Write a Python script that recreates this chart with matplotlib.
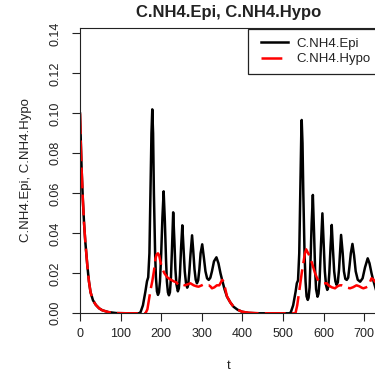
import matplotlib
matplotlib.use("Agg")
import matplotlib.pyplot as plt

plt.rcParams['font.family'] = ['Liberation Sans', 'DejaVu Sans']
plt.rcParams['lines.scale_dashes'] = False

# Times (days) and values
epi_t = [0, 2, 4, 7, 10, 13, 18, 22, 26, 32, 39, 47, 55, 70, 90, 120, 145,
         149, 155, 161, 165, 168, 171, 174, 176, 178, 180, 182, 185, 187, 189.5,
         192, 194.5, 197, 200, 203, 206, 209, 212, 214, 216.5, 219, 221.5, 224,
         226.5, 229.5, 232.5, 235, 237.5, 241, 243.5, 246, 249, 252, 255, 258,
         261, 264, 266.5, 269, 272, 276, 279, 282, 285, 288, 291, 294, 297, 301,
         305, 309, 313, 317, 321, 325, 330, 336, 341, 346, 350, 356, 362, 370,
         378, 388, 399, 415, 440, 515,
         519, 525, 531, 534, 537, 540, 543, 545, 546, 548, 550, 553, 555.5, 558,
         561, 563, 565.5, 568, 570.5, 573.5, 576.5, 579, 581.5, 585, 587.5, 590,
         593, 597, 600, 603, 606, 609, 611.5, 614, 617, 620, 623, 626, 629, 632,
         635, 638, 643, 647, 650, 653.5, 657, 660.5, 664, 667, 671, 675, 679,
         684, 690, 696, 702, 708.6, 713, 718, 722, 730]
epi_v = [0.100, 0.085, 0.072, 0.057, 0.045, 0.036, 0.024, 0.016, 0.0105, 0.0065,
         0.0042, 0.0025, 0.0015, 0.0006, 0.0001, 0.0, 0.0,
         0.0005, 0.004, 0.0108, 0.0160, 0.0180, 0.030, 0.065, 0.090, 0.102, 0.090,
         0.060, 0.030, 0.018, 0.011,
         0.0092, 0.0105, 0.016, 0.030, 0.048, 0.061, 0.046, 0.026, 0.016, 0.0105,
         0.009, 0.0105, 0.018,
         0.032, 0.0505, 0.036, 0.022, 0.0145, 0.011, 0.0125, 0.019, 0.033, 0.044,
         0.033, 0.021,
         0.0152, 0.0128, 0.0142, 0.020, 0.029, 0.039, 0.031, 0.022, 0.0168, 0.015,
         0.0165, 0.022, 0.030, 0.0345,
         0.028, 0.021, 0.0175, 0.0167, 0.0178, 0.021, 0.026, 0.028, 0.025, 0.020,
         0.0167, 0.012, 0.0083, 0.0055,
         0.0033, 0.0018, 0.0008, 0.0002, 0.0, 0.0,
         0.0004, 0.004, 0.0108, 0.0150, 0.0165, 0.030, 0.065, 0.090, 0.0967, 0.085,
         0.060, 0.030, 0.016, 0.0085,
         0.0067, 0.0078, 0.013, 0.028, 0.045, 0.0592, 0.040, 0.022, 0.012, 0.0083,
         0.0098, 0.016,
         0.032, 0.050, 0.036, 0.021, 0.0140, 0.0117, 0.0132, 0.020, 0.033, 0.0442,
         0.032, 0.021, 0.016, 0.0142,
         0.0155, 0.022, 0.0392, 0.030, 0.021, 0.0172, 0.0167, 0.0178, 0.024, 0.030,
         0.0347, 0.029, 0.021,
         0.0168, 0.0158, 0.0175, 0.023, 0.0275, 0.025, 0.020, 0.0167, 0.011]

hypo_t = [0, 2, 4, 7, 10, 13, 18, 22, 26, 32, 39, 47, 55, 70, 90, 120, 160,
          162, 166, 170, 174, 178, 182, 186, 189, 192, 195, 198, 202, 208, 215,
          222, 231, 237, 243, 250, 258, 265, 272, 280, 287, 292, 300, 305, 311,
          317, 321, 325, 331, 337, 343, 347, 350, 353, 358, 362, 370, 378, 388,
          399, 415, 430, 450, 530,
          531, 535, 538, 542, 546, 550, 554, 557, 562, 567, 573, 579, 585, 591,
          600, 608, 612, 620, 628, 634, 640, 645, 652, 659, 665, 672, 681, 688,
          694, 698, 705, 710, 715, 718, 722, 730]
hypo_v = [0.100, 0.085, 0.072, 0.057, 0.045, 0.036, 0.024, 0.016, 0.0105, 0.0065,
          0.0042, 0.0025, 0.0015, 0.0006, 0.0001, 0.0, 0.0,
          0.0003, 0.002, 0.007, 0.012, 0.016, 0.021, 0.0275, 0.0295, 0.030, 0.029,
          0.026, 0.0225, 0.020, 0.018,
          0.017, 0.016, 0.0155, 0.014, 0.0145, 0.014, 0.0145, 0.0150, 0.0140,
          0.0135, 0.0133, 0.0140, 0.0145, 0.0140,
          0.0140, 0.0135, 0.0125, 0.0130, 0.0140, 0.0140, 0.0155, 0.0167, 0.0160,
          0.0120, 0.0085, 0.0055, 0.0033, 0.0018,
          0.0008, 0.0003, 0.0001, 0.0, 0.0,
          0.0003, 0.004, 0.0083, 0.014, 0.020, 0.025, 0.030, 0.032, 0.030, 0.028,
          0.024, 0.020, 0.017, 0.0158,
          0.0150, 0.0150, 0.0140, 0.0130, 0.0125, 0.0135, 0.0140, 0.0140, 0.0135,
          0.0128, 0.0125, 0.0130, 0.0140, 0.0135,
          0.0128, 0.0125, 0.0130, 0.0135, 0.016, 0.0175, 0.017, 0.015]

x_ticks = [0, 100, 200, 300, 400, 500, 600, 700]
y_ticks = [0.00, 0.02, 0.04, 0.06, 0.08, 0.10, 0.12, 0.14]
series_names = ["C.NH4.Epi", "C.NH4.Hypo"]
title = "C.NH4.Epi, C.NH4.Hypo"

W, H = 375, 380
fig = plt.figure(figsize=(W / 100, H / 100), dpi=100)
ax_left, ax_right, ax_top, ax_bottom = 80, 376.4, 28, 313.3
ax = fig.add_axes([ax_left / W, 1 - ax_bottom / H, (ax_right - ax_left) / W,
                   (ax_bottom - ax_top) / H])

ax.plot(epi_t, epi_v, color='black', lw=1.8, label=series_names[0],
        solid_joinstyle='round')
ax.plot(hypo_t, hypo_v, color='#ff0000', lw=1.8, label=series_names[1],
        linestyle=(0, (15, 4.5)))

ax.set_xlim(0, 730)
ax.set_ylim(0, 0.1427)
ax.set_xticks(x_ticks)
ax.set_xticklabels([str(v) for v in x_ticks])
ax.set_yticks(y_ticks)
ax.set_yticklabels([f"{v:.2f}" for v in y_ticks])

for s in ax.spines.values():
    s.set_linewidth(0.8)
    s.set_color('#222222')

ax.tick_params(axis='both', direction='out', length=6, width=0.8,
               colors='#222222', labelsize=9, labelcolor='#222222')
ax.tick_params(axis='x', pad=4.5)
ax.tick_params(axis='y', pad=7)
for lbl in ax.get_yticklabels():
    lbl.set_rotation(90)
    lbl.set_va('center')

cx = (ax_left + ax_right) / 2
fig.text(cx / W, 1 - 12.5 / H, title, ha='center', va='center',
         fontsize=12, fontweight='bold', color='#222222')
fig.text(cx / W, 1 - 366 / H, "t", ha='center', va='center', fontsize=9.5,
         color='#222222')
fig.text(26 / W, 1 - 170 / H, title, ha='center', va='center', rotation=90,
         fontsize=9.5, color='#222222')

leg = ax.legend(loc='upper left', bbox_to_anchor=(248 / W, 1 - 29 / H),
                bbox_transform=fig.transFigure, fontsize=9.5, numpoints=2,
                handlelength=2.65, handletextpad=0.4, borderpad=0.65,
                labelspacing=0.25, borderaxespad=0, fancybox=False,
                framealpha=1, edgecolor='#222222')
leg.get_frame().set_linewidth(0.9)
for t in leg.get_texts():
    t.set_color('#222222')

fig.savefig("out.png", dpi=100)
